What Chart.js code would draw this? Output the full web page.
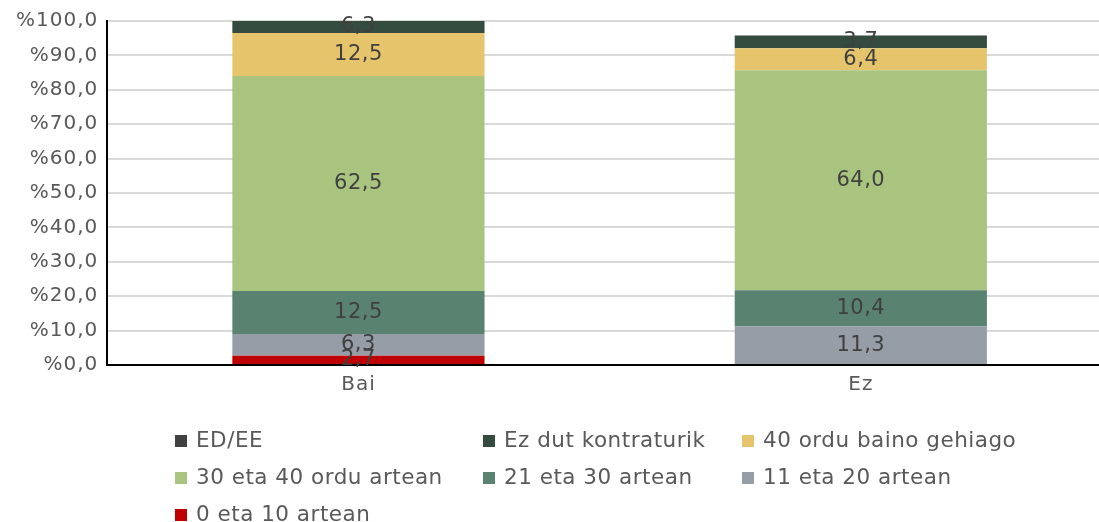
<!DOCTYPE html>
<html>
<head>
<meta charset="utf-8">
<script src="https://cdn.jsdelivr.net/npm/chart.js@4/dist/chart.umd.min.js"></script>
<style>
  html, body { margin: 0; padding: 0; background: #fff; overflow: hidden; }
  #wrap { position: relative; width: 1099px; height: 522px; overflow: hidden; }
  #c { position: absolute; left: 0; top: 0; }
  .lg { position: absolute; font-family: "DejaVu Sans", sans-serif; font-size: 21.5px; letter-spacing: 0.5px; color: #595959; white-space: nowrap; line-height: 22px; }
  .lg i { display: inline-block; width: 12px; height: 12px; margin-right: 9px; vertical-align: 0px; }
</style>
</head>
<body>
<div id="wrap">
<canvas id="c" width="1112" height="522"></canvas>
<div id="legend"></div>
</div>
<script>
const categories = ["Bai", "Ez"];
const seriesNames = ["ED/EE", "Ez dut kontraturik", "40 ordu baino gehiago", "30 eta 40 ordu artean", "21 eta 30 artean", "11 eta 20 artean", "0 eta 10 artean"];
const seriesColors = ["#404040", "#344B3F", "#E6C46C", "#A9C47E", "#5A8270", "#969DA6", "#C00000"];
const edEe = [0, 0];
const ezDutKontraturik = [6.3, 3.7];
const ordu40Gehiago = [12.5, 6.4];
const ordu30_40 = [62.5, 64.0];
const artean21_30 = [12.5, 10.4];
const artean11_20 = [6.3, 11.3];
const artean0_10 = [2.7, 0];
const yTicks = [0, 10, 20, 30, 40, 50, 60, 70, 80, 90, 100];

const stackOrder = [
  [6, artean0_10], [5, artean11_20], [4, artean21_30], [3, ordu30_40],
  [2, ordu40Gehiago], [1, ezDutKontraturik], [0, edEe]
];
const datasets = stackOrder.map(([i, d]) => ({
  label: seriesNames[i], data: d, backgroundColor: seriesColors[i],
  borderWidth: 0, categoryPercentage: 1, barPercentage: 0.502
}));

const fmt = v => v.toFixed(1).replace('.', ',');

const spacingPlugin = {
  id: 'spacing',
  beforeInit(chart) { chart.ctx.letterSpacing = '1px'; },
  beforeUpdate(chart) { chart.ctx.letterSpacing = '1px'; },
  beforeDraw(chart) { chart.ctx.letterSpacing = '1px'; }
};

const labelPlugin = {
  id: 'labels',
  afterDatasetsDraw(chart) {
    const ctx = chart.ctx, area = chart.chartArea;
    ctx.save();
    ctx.letterSpacing = '0.5px';
    ctx.font = '21px "DejaVu Sans"';
    ctx.fillStyle = '#404040';
    ctx.textAlign = 'center';
    ctx.textBaseline = 'middle';
    chart.data.datasets.forEach((ds, di) => {
      const meta = chart.getDatasetMeta(di);
      meta.data.forEach((bar, j) => {
        const v = ds.data[j];
        if (!v) return;
        const top = Math.max(bar.y, area.top), bottom = Math.min(bar.base, area.bottom);
        ctx.fillText(fmt(v), bar.x, (top + bottom) / 2);
      });
    });
    ctx.restore();
  }
};

new Chart(document.getElementById('c'), {
  type: 'bar',
  data: { labels: categories, datasets },
  options: {
    responsive: false, animation: false,
    layout: { padding: { left: 7, top: 9, right: 0, bottom: 117 } },
    plugins: { legend: { display: false }, tooltip: { enabled: false } },
    scales: {
      x: {
        stacked: true,
        grid: { display: false, drawTicks: false },
        border: { color: '#000000', width: 2 },
        ticks: { color: '#595959', font: { family: 'DejaVu Sans', size: 20 }, padding: 8 }
      },
      y: {
        stacked: true, min: 0, max: 100,
        afterBuildTicks: s => { s.ticks = yTicks.map(v => ({ value: v })); },
        grid: { color: '#D9D9D9', lineWidth: 2, drawTicks: false },
        border: { color: '#000000', width: 2 },
        ticks: { color: '#595959', font: { family: 'DejaVu Sans', size: 20 }, padding: 9,
                 callback: v => '%' + fmt(v) }
      }
    }
  },
  plugins: [spacingPlugin, labelPlugin]
});

const legendPos = [[175, 429], [483, 429], [742, 429], [175, 466], [483, 466], [742, 466], [175, 503]];
const lg = document.getElementById('legend');
seriesNames.forEach((n, i) => {
  const d = document.createElement('div');
  d.className = 'lg';
  d.style.left = legendPos[i][0] + 'px';
  d.style.top = legendPos[i][1] + 'px';
  d.innerHTML = '<i style="background:' + seriesColors[i] + '"></i>';
  d.appendChild(document.createTextNode(n));
  lg.appendChild(d);
});
</script>
</body>
</html>
